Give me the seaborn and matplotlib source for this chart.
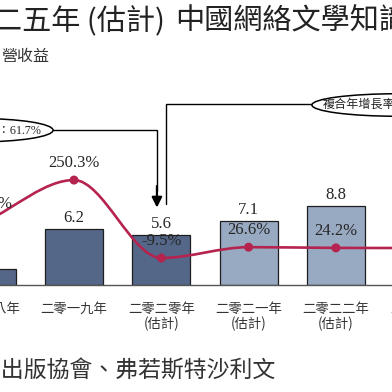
import numpy as np
import pandas as pd
import seaborn as sns
import matplotlib
matplotlib.use("Agg")
import matplotlib.pyplot as plt
from matplotlib.path import Path
from matplotlib.patches import PathPatch, Ellipse

sns.set_style("white")
plt.rcParams['font.family'] = ['Noto Sans CJK TC', 'DejaVu Sans']

# 數據（人民幣十億元）
years = ["二零一八年", "二零一九年", "二零二零年\n(估計)", "二零二一年\n(估計)",
         "二零二二年\n(估計)", "二零二三年\n(估計)"]
revenue = [1.8, 6.2, 5.6, 7.1, 8.8, 10.9]
growth = [114.0, 250.3, -9.5, 26.6, 24.2, 23.9]
shade = ["dark", "dark", "dark", "light", "light", "light"]
palette = {"dark": "#4b6492", "light": "#91a8c9"}

NUM_FONT = ['Liberation Serif', 'Noto Sans CJK TC']
TXT = "#262626"
RED = "#b5234f"

pos = np.arange(len(years))
df = pd.DataFrame({"pos": pos, "revenue": revenue, "growth": growth, "shade": shade})

W = H = 392
fig = plt.figure(figsize=(3.92, 3.92), dpi=100)
# 圖表為裁切畫面：坐標軸超出畫布
step = 87.3
left_px = -13.3 - 0.6 * step
ax = fig.add_axes([left_px / W, 107 / H, 6.2 * step / W, 285 / H])

sns.barplot(data=df, x="pos", y="revenue", hue="shade", palette=palette,
            native_scale=True, dodge=False, width=0.664, legend=False,
            edgecolor="#1e1e1e", linewidth=0.9, ax=ax)
ax.set_xlim(-0.6, 5.6)
ax.set_ylim(0, 285 / 9.0)
ax.set_xticks(pos, years)
ax.tick_params(axis="x", length=0, pad=12, labelsize=9.6, labelcolor="#333333")
for lab in ax.get_xticklabels():
    lab.set_linespacing(1.05)
ax.set_yticks([])
ax.set_xlabel("")
ax.set_ylabel("")
for s in ["top", "left", "right"]:
    ax.spines[s].set_visible(False)
ax.spines["bottom"].set_color("#555555")
ax.spines["bottom"].set_linewidth(1.0)

for x, v in zip(pos, revenue):
    ax.annotate(f"{v}", (x, v), xytext=(0, 3), textcoords="offset pixels",
                ha="center", va="bottom", fontsize=12, color=TXT, family=NUM_FONT)

# 增長率曲線
ax2 = ax.twinx()
ax2.set_ylim(-29.85 / 0.3, (285 - 29.85) / 0.3)
ax2.set_yticks([])
for s in ax2.spines.values():
    s.set_visible(False)

xs = np.array(pos, dtype=float)
ys = np.array(growth, dtype=float)
d = np.diff(ys) / np.diff(xs)
m = np.zeros_like(ys)
m[0] = d[0]
m[-1] = d[-1]
for i in range(1, len(ys) - 1):
    m[i] = 0.0 if d[i - 1] * d[i] <= 0 else (d[i - 1] + d[i]) / 2
verts = [(xs[0], ys[0])]
codes = [Path.MOVETO]
for i in range(len(xs) - 1):
    h = xs[i + 1] - xs[i]
    verts += [(xs[i] + h / 3, ys[i] + m[i] * h / 3),
              (xs[i + 1] - h / 3, ys[i + 1] - m[i + 1] * h / 3),
              (xs[i + 1], ys[i + 1])]
    codes += [Path.CURVE4] * 3
ax2.add_patch(PathPatch(Path(verts, codes), facecolor="none", edgecolor=RED,
                        linewidth=1.9, zorder=3))
sns.scatterplot(data=df, x="pos", y="growth", color=RED, s=42, edgecolor="none",
                zorder=4, ax=ax2, legend=False)
ax2.set_xlim(-0.6, 5.6)
ax2.set_xlabel("")
ax2.set_ylabel("")

for x, g in zip(pos, growth):
    ax2.annotate(f"{g:.1f}%", (x, g), xytext=(0, 17), textcoords="offset pixels",
                 ha="center", va="center", fontsize=12, color=TXT, family=NUM_FONT,
                 zorder=5)

# 複合年增長率標註
ax.plot([0.76, 1.95, 1.95], [17.2, 17.2, 10.4], color="black", lw=1.0,
        solid_joinstyle="miter", zorder=6)
ax.annotate("", xy=(1.95, 8.6), xytext=(1.95, 11.0),
            arrowprops=dict(arrowstyle="-|>", color="black", lw=1.6,
                            mutation_scale=15, shrinkA=0, shrinkB=0), zorder=6)
ax.plot([2.054, 2.054, 3.73], [9.0, 20.1, 20.1], color="black", lw=1.0,
        solid_joinstyle="miter", zorder=6)
ax.add_patch(Ellipse((-0.10, 17.2), 1.72, 2.6, facecolor="white",
                     edgecolor="black", lw=1.1, zorder=7))
ax.text(0.633, 17.2, "複合年增長率：61.7%", ha="right", va="center",
        fontsize=8.7, color=TXT, family=NUM_FONT, zorder=8)
ax.add_patch(Ellipse((4.70, 20.0), 1.95, 2.5, facecolor="white",
                     edgecolor="black", lw=1.1, zorder=7))
ax.text(3.85, 20.0, "複合年增長率：24.8%", ha="left", va="center",
        fontsize=8.7, color=TXT, family=NUM_FONT, zorder=8)

# 標題及來源
fig.text(-7 / W, 1 - 22 / H, "二五年 (估計)", ha="left", va="center",
         fontsize=21, color="#222222")
fig.text(175 / W, 1 - 22 / H, "中國網絡文學知識產權運營", ha="left", va="center",
         fontsize=21, color="#222222")
fig.text(1 / W, 1 - 57 / H, "營收益", ha="left", va="center",
         fontsize=11.5, color="#333333")
fig.text(275 / W, 1 - 370 / H, "數字出版協會、弗若斯特沙利文", ha="right",
         va="center", fontsize=16.5, color="#333333", style="italic")

fig.savefig("out.png", dpi=100)
